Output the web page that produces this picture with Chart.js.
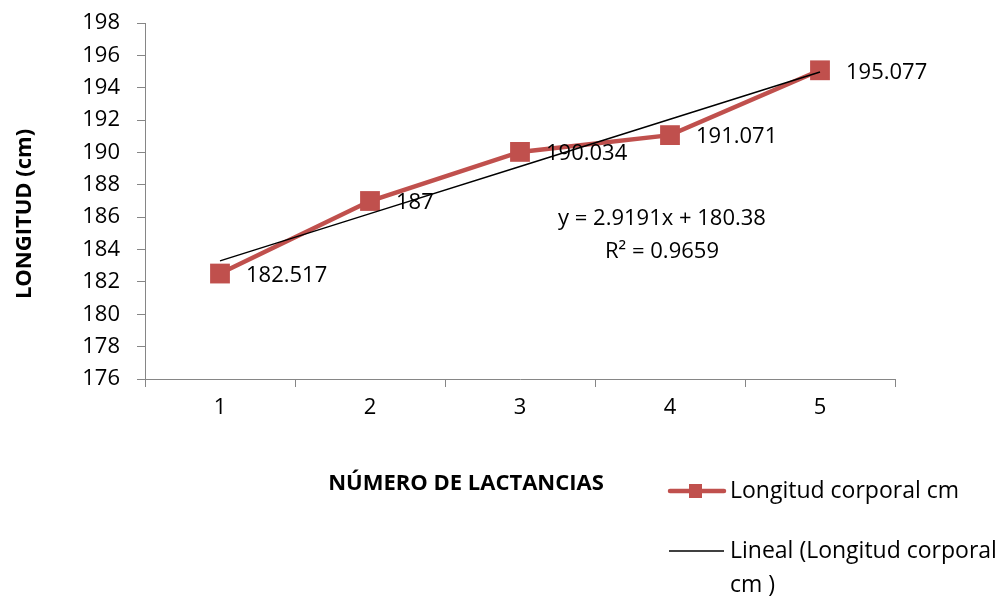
<!DOCTYPE html>
<html>
<head>
<meta charset="utf-8">
<script src="https://cdn.jsdelivr.net/npm/chart.js@4.4.1/dist/chart.umd.min.js"></script>
<style>
  html, body { margin: 0; padding: 0; background: #fff; }
  #wrap { width: 1005px; height: 598px; position: relative; }
</style>
</head>
<body>
<div id="wrap"><canvas id="c" width="1005" height="598"></canvas></div>
<script>
// Número de lactancias (categorías del eje X)
const categories = ['1', '2', '3', '4', '5'];
// Longitud corporal media (cm) por lactancia
const longitud = [182.517, 187, 190.034, 191.071, 195.077];
// Línea de tendencia lineal: y = pendiente·x + intercepto
const pendiente = 2.9191;
const intercepto = 180.38;
const r2 = 0.9659;
// Eje Y
const yMin = 176, yMax = 198, yStep = 2;

const tendencia = categories.map(c => pendiente * Number(c) + intercepto);

const FONT = "'Open Sans', 'Liberation Sans', sans-serif";
const RED = '#C0504D';
const AXIS = '#868686';

const overlay = {
  id: 'overlay',
  afterDatasetsDraw(chart) {
    const ctx = chart.ctx;
    ctx.save();
    // etiquetas de valor
    const meta = chart.getDatasetMeta(1);
    ctx.font = '22px ' + FONT;
    ctx.fillStyle = '#000';
    ctx.textAlign = 'left';
    ctx.textBaseline = 'middle';
    meta.data.forEach((pt, i) => {
      ctx.fillText(String(longitud[i]), pt.x + 26, pt.y + 2);
    });
    // ecuación de la tendencia
    ctx.textAlign = 'center';
    ctx.fillText('y = ' + pendiente + 'x + ' + intercepto.toFixed(2), 662, 219);
    ctx.fillText('R² = ' + r2, 662, 252);

    // títulos de ejes
    ctx.font = 'bold 22px ' + FONT;
    ctx.fillText('NÚMERO DE LACTANCIAS', 466, 484);
    ctx.save();
    ctx.translate(25, 214);
    ctx.rotate(-Math.PI / 2);
    ctx.fillText('LONGITUD (cm)', 0, 0);
    ctx.restore();

    // leyenda
    ctx.font = '23px ' + FONT;
    ctx.textAlign = 'left';
    ctx.strokeStyle = RED;
    ctx.lineWidth = 4.5;
    ctx.lineCap = 'round';
    ctx.beginPath(); ctx.moveTo(670, 491); ctx.lineTo(724, 491); ctx.stroke();
    ctx.fillStyle = RED;
    ctx.fillRect(689, 484, 13, 14);
    ctx.fillStyle = '#000';
    ctx.fillText('Longitud corporal cm', 730, 491);
    ctx.strokeStyle = '#000';
    ctx.lineWidth = 1.5;
    ctx.lineCap = 'butt';
    ctx.beginPath(); ctx.moveTo(669, 551); ctx.lineTo(724, 551); ctx.stroke();
    ctx.fillText('Lineal (Longitud corporal', 730, 551);
    ctx.fillText('cm )', 730, 585);
    ctx.restore();
  }
};

new Chart(document.getElementById('c'), {
  type: 'line',
  data: {
    labels: categories,
    datasets: [
      {
        label: 'Lineal (Longitud corporal cm )',
        data: tendencia,
        borderColor: '#000',
        borderWidth: 1.5,
        pointRadius: 0,
        fill: false,
        tension: 0
      },
      {
        label: 'Longitud corporal cm',
        data: longitud,
        borderColor: RED,
        backgroundColor: RED,
        borderWidth: 4.5,
        pointStyle: 'rect',
        pointRadius: 14,
        pointBorderWidth: 0,
        pointBackgroundColor: RED,
        fill: false,
        tension: 0
      }
    ]
  },
  options: {
    responsive: false,
    animation: false,
    devicePixelRatio: 1,
    layout: { padding: { top: 23, right: 110, left: 0, bottom: 0 } },
    plugins: { legend: { display: false }, tooltip: { enabled: false } },
    scales: {
      x: {
        type: 'category',
        offset: true,
        grid: { display: true, offset: true, drawOnChartArea: false, drawTicks: true, tickLength: 8, color: AXIS },
        border: { display: true, color: AXIS, width: 1 },
        ticks: { color: '#000', font: { family: FONT, size: 22 }, padding: 8, maxRotation: 0 },
        afterFit(s) { s.height = 219; s.paddingLeft = 0; s.paddingRight = 0; }
      },
      y: {
        min: yMin, max: yMax,
        grid: { display: true, drawOnChartArea: false, drawTicks: true, tickLength: 8, color: AXIS },
        border: { display: true, color: AXIS, width: 1 },
        ticks: { stepSize: yStep, color: '#000', font: { family: FONT, size: 22 }, padding: 17 },
        afterFit(s) { s.width = 145; s.paddingTop = 0; s.paddingBottom = 0; }
      }
    }
  },
  plugins: [overlay]
});
</script>
</body>
</html>
